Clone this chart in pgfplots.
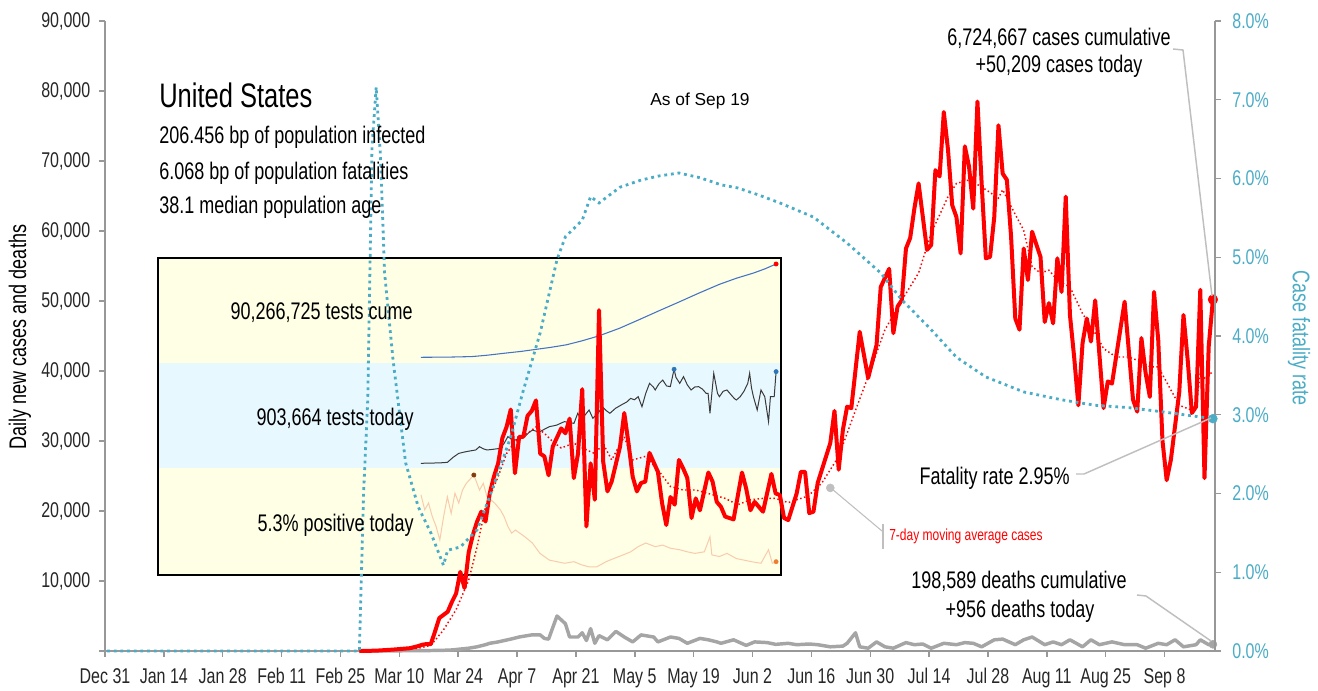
\documentclass[border=0pt]{standalone}
\usepackage{fontspec}
\setmainfont{Liberation Sans}[FakeStretch=0.75]
\newfontfamily\plainsans{Liberation Sans}
\usepackage{pgfplots}
\pgfplotsset{compat=1.18}
\definecolor{cfr}{HTML}{4BACC6}
\definecolor{deathc}{HTML}{A5A5A5}
\definecolor{bandY}{HTML}{FFFFE6}
\definecolor{bandB}{HTML}{E8F8FF}
\definecolor{cumec}{HTML}{4472C4}
\definecolor{testc}{HTML}{3A3A3A}
\definecolor{posc}{HTML}{F8CBAD}
\definecolor{axc}{HTML}{989898}
\definecolor{connc}{HTML}{BFBFBF}
\begin{document}
\begin{tikzpicture}[font=\fontsize{18}{21}\selectfont]
\useasboundingbox (-78.75pt,-29.25pt) rectangle (909.75pt,488.25pt);

% ---------------- inset ----------------
\begin{axis}[at={(39.75pt,57pt)}, anchor=south west, scale only axis,
  width=467.25pt, height=237.75pt, xmin=-64.2, xmax=265.6, ymin=0, ymax=317,
  hide axis, clip=false]
\fill[bandY] (axis cs:-64.2,0) rectangle (axis cs:265.6,107);
\fill[bandB] (axis cs:-64.2,107) rectangle (axis cs:265.6,212);
\fill[bandY] (axis cs:-64.2,212) rectangle (axis cs:265.6,317);
% tests cumulative, millions
\addplot[cumec, line width=0.8pt, y filter/.expression={217.7+1.0336*y}] coordinates {
(75,0)(90,0.2)(102,0.7)(110,2.0)(119,3.9)(128,5.7)(136,7.7)(144,9.7)(152,12.1)(160,15.8)
(169,20.6)(180,28)(190,36)(201,45)(212,53.8)(222,62)(233,70.6)(242,76.5)(251,81.5)(257,85.5)(263,90.27)};
% tests today, thousands
\addplot[testc, line width=0.75pt, y filter/.expression={107+0.1066*y}] coordinates {
(75,44)(80,46)(85,48)(89,53)(92,100)(95,137)(98,150)(101,160)(104,169)(106,200)(108,180)(110,169)
(113,175)(117,184)(119,230)(121,294)(123,270)(125,263)(128,280)(130,294)(132,330)(134,356)(136,345)
(138,341)(141,370)(143,388)(145,395)(147,403)(149,420)(151,435)(154,425)(156,419)(158,513)(160,450)
(162,500)(164,544)(166,466)(169,520)(171,575)(173,540)(175,513)(178,560)(181,591)(184,620)(186,653)
(188,640)(190,669)(192,575)(194,700)(196,794)(198,760)(199,732)(201,790)(203,825)(205,770)(207,763)
(209,926)(210,850)(212,794)(214,857)(216,780)(218,732)(220,760)(222,763)(224,740)(226,700)(227,700)
(228,513)(230,888)(232,700)(233,669)(235,720)(237,732)(239,690)(241,650)(242,638)(244,669)(246,720)
(248,794)(249,888)(250,750)(251,669)(253,544)(255,732)(257,669)(259,435)(260,669)(262,669)(263,904)};
% positive rate, percent
\addplot[posc, line width=0.75pt, y filter/.expression={-14.2+5.19*y}] coordinates {
(75,18.2)(77,15.3)(79,16.6)(81,14.0)(83,12.1)(85,9.5)(87,14.0)(89,17.8)(91,14.6)(93,18.5)(95,16.6)
(97,19.1)(99,20.4)(103,22.0)(106,19.1)(108,20.4)(110,17.8)(114,16.6)(117,15.3)(119,14.0)(121,12.1)
(123,10.8)(125,11.4)(130,10.1)(134,8.9)(138,6.9)(143,5.6)(147,5.3)(151,5.0)(156,5.3)(160,4.7)(164,4.3)
(168,4.3)(173,5.3)(177,5.9)(182,6.6)(186,7.2)(190,8.2)(194,8.9)(199,8.2)(203,8.5)(207,7.9)(212,7.6)
(216,7.2)(220,6.9)(225,7.2)(228,10.1)(229,6.6)(233,6.3)(237,6.9)(242,5.9)(246,5.6)(250,5.3)(255,5.0)
(259,7.6)(261,5.0)(263,5.3)};
\addplot[only marks, mark=*, mark size=1.6pt, red, y filter/.expression={217.7+1.0336*y}] coordinates {(263,90.27)};
\addplot[only marks, mark=*, mark size=1.6pt, color={rgb,255:red,46;green,117;blue,182}, y filter/.expression={107+0.1066*y}] coordinates {(209,926)(263,904)};
\addplot[only marks, mark=*, mark size=1.6pt, color={rgb,255:red,132;green,60;blue,12}, y filter/.expression={-14.2+5.19*y}] coordinates {(103,22.0)};
\addplot[only marks, mark=*, mark size=1.6pt, color={rgb,255:red,237;green,125;blue,49}, y filter/.expression={-14.2+5.19*y}] coordinates {(263,5.3)};
\draw[black, line width=2.2pt] (rel axis cs:0,0) rectangle (rel axis cs:1,1);
\end{axis}

% ---------------- main, left axis ----------------
\begin{axis}[at={(0pt,0pt)}, anchor=south west, scale only axis,
  width=832.5pt, height=472.5pt, xmin=0, xmax=264, ymin=0, ymax=90,
  axis x line*=bottom, axis y line*=left,
  axis line style={-, draw=axc, line width=1.3pt},
  tick align=outside, major tick length=4.5pt,
  tick style={draw=axc, line width=1.1pt},
  xtick={0,14,...,252},
  xticklabels={Dec 31,Jan 14,Jan 28,Feb 11,Feb 25,Mar 10,Mar 24,Apr 7,Apr 21,May 5,May 19,Jun 2,Jun 16,Jun 30,Jul 14,Jul 28,Aug 11,Aug 25,Sep 8},
  ytick={0,10,...,90},
  yticklabels={{},{10,000},{20,000},{30,000},{40,000},{50,000},{60,000},{70,000},{80,000},{90,000}},
  tick label style={font=\fontsize{16}{19}\selectfont, text=black!85},
  xticklabel style={yshift=-5pt},
  yticklabel style={xshift=-3pt},
  clip=false]
% deaths, thousands
\addplot[deathc, line width=2.6pt, line join=round, x filter/.expression={x+0.5}] coordinates {
(60,0)(75,0.05)(80,0.1)(82,0.15)(86,0.4)(88,0.6)(90,0.9)(91,1.1)(93,1.3)(96,1.7)(98,2.0)(99,2.1)(101,2.3)
(103,2.3)(104,1.8)(105,1.7)(107,5.0)(109,3.9)(110,2.0)(112,2.0)(113,2.6)(114,1.5)(115,3.2)(116,1.1)
(117,2.2)(119,1.6)(121,2.8)(123,2.0)(125,1.3)(127,2.3)(130,2.0)(131,1.3)(134,2.0)(136,1.8)(138,1.1)
(141,1.8)(143,1.6)(145,1.3)(146,1.1)(149,1.6)(152,0.8)(154,1.3)(157,1.2)(159,0.95)(162,1.1)(164,0.9)
(167,1.0)(169,0.9)(172,0.6)(175,0.7)(176,1.1)(178,2.6)(179,0.6)(181,0.4)(183,1.3)(185,0.6)(187,0.4)
(190,1.2)(192,0.9)(194,1.0)(196,0.4)(199,1.1)(202,0.9)(204,1.2)(206,1.1)(208,0.6)(211,1.6)(213,1.7)
(216,0.9)(218,1.6)(220,2.0)(223,0.9)(225,1.3)(227,0.9)(229,1.6)(232,0.6)(234,1.6)(236,0.9)(239,1.3)
(242,0.9)(245,0.9)(247,0.4)(250,1.1)(252,0.9)(254,1.6)(256,0.6)(259,0.9)(260,1.6)(262,0.9)(263,0.956)};
% daily cases, thousands
\addplot[red, line width=3pt, line join=round, x filter/.expression={x+0.5}] coordinates {
(60,0)(64,0.05)(68,0.2)(70,0.3)(72,0.4)(74,0.7)(75,0.9)(76,1.0)(77,1.0)(78,2.8)(79,4.7)(81,5.6)(82,7.0)
(83,8.2)(84,11.3)(85,9.0)(86,14.1)(87,16.6)(88,18.5)(89,19.9)(90,18.5)(91,22.5)(92,24.9)(93,26.8)
(94,30.4)(95,32.0)(96,34.5)(97,25.4)(98,30.6)(99,30.6)(100,33.6)(101,34.3)(102,35.8)(103,28.2)
(104,27.8)(105,25.1)(106,29.2)(107,30.5)(108,31.8)(109,31.1)(110,33.2)(111,24.7)(112,28.2)(113,37.4)
(114,17.8)(115,26.8)(116,21.6)(117,48.7)(118,27.0)(119,22.8)(120,24.2)(122,29.2)(123,34.0)(124,29.7)
(125,24.9)(126,22.8)(127,24.0)(128,24.2)(129,28.3)(131,25.6)(132,21.1)(133,18.0)(134,22.0)(135,20.9)
(136,27.3)(137,26.1)(138,24.7)(139,19.0)(140,21.8)(141,20.1)(143,25.5)(144,24.2)(145,21.3)(146,20.6)
(147,19.2)(149,18.8)(151,25.5)(152,23.2)(153,20.1)(154,21.3)(156,19.9)(158,25.3)(159,22.5)(160,22.3)
(161,19.0)(162,18.7)(164,22.5)(165,25.6)(166,25.6)(167,19.7)(168,19.9)(169,24.0)(171,27.8)(172,29.7)
(173,34.3)(174,25.9)(175,31.6)(176,34.9)(177,34.7)(179,45.6)(181,39.0)(183,43.7)(184,52.0)(186,54.6)
(187,45.4)(188,49.2)(189,50.1)(190,57.5)(191,59.0)(192,63.2)(193,66.8)(195,57.3)(196,58.0)(197,68.7)
(198,67.8)(199,77.0)(200,71.6)(201,63.7)(202,62.0)(203,56.8)(204,72.1)(205,69.2)(206,63.2)(207,78.5)
(208,66.8)(209,56.1)(210,56.3)(211,62.0)(212,75.1)(213,68.2)(214,67.3)(215,59.2)(216,47.5)(217,45.9)
(218,57.5)(219,53.0)(220,59.9)(222,56.3)(223,47.0)(224,49.7)(225,46.8)(226,56.1)(227,51.3)(228,64.9)
(229,48.0)(230,42.0)(231,35.1)(232,44.0)(233,47.5)(234,44.2)(235,50.1)(237,34.7)(238,38.5)(239,38.2)
(242,49.9)(244,35.9)(245,34.2)(246,44.7)(247,39.7)(248,36.3)(249,51.3)(250,44.4)(251,30.1)(252,24.4)
(253,27.3)(255,37.0)(256,48.0)(257,41.6)(258,34.0)(259,34.9)(260,51.6)(261,24.7)(262,43.5)(263,50.209)};
% 7-day moving average, thousands
\addplot[red, line width=1.1pt, dash pattern=on 1.1pt off 1.9pt, x filter/.expression={x+0.5}] coordinates {
(60,0)(70,0.2)(74,0.4)(77,0.8)(80,3.0)(83,5.9)(86,10.1)(88,14.9)(90,20.6)(93,24.9)(95,28.2)(97,29.9)
(100,31.1)(102,32.0)(104,31.1)(106,29.9)(108,29.0)(111,29.7)(113,29.0)(116,28.2)(118,29.6)(120,27.3)
(123,30.6)(125,27.3)(128,27.8)(131,25.9)(134,23.5)(137,23.0)(140,23.0)(143,22.5)(147,21.8)(150,20.9)
(153,21.6)(156,21.8)(159,21.8)(162,21.2)(166,22.0)(167,22.3)(170,24.0)(174,27.8)(178,34.4)(181,39.2)
(185,45.9)(189,50.1)(193,54.0)(196,59.7)(200,64.9)(202,66.8)(205,67.3)(208,66.3)(212,64.7)(213,65.9)
(215,63.5)(218,60.1)(220,54.9)(222,54.0)(224,54.4)(226,53.0)(229,52.0)(232,48.2)(235,45.4)(237,43.2)
(240,42.0)(243,42.0)(246,41.3)(248,40.6)(250,40.6)(253,37.3)(255,35.1)(258,34.4)(259,35.1)(260,39.7)
(261,39.0)(263,39.9)};
\addplot[only marks, mark=*, mark size=3.6pt, red, x filter/.expression={x+0.5}] coordinates {(263,50.209)};
\addplot[only marks, mark=*, mark size=3pt, deathc, x filter/.expression={x+0.5}] coordinates {(263,0.956)};
\addplot[only marks, mark=*, mark size=3pt, connc, x filter/.expression={x+0.5}] coordinates {(172,23.3)};
\end{axis}

% ---------------- main, right axis ----------------
\begin{axis}[at={(0pt,0pt)}, anchor=south west, scale only axis,
  width=832.5pt, height=472.5pt, xmin=0, xmax=264, ymin=0, ymax=8,
  axis x line=none, axis y line*=right,
  axis line style={-, draw=axc, line width=1.3pt},
  tick align=outside, major tick length=4.5pt,
  tick style={draw=axc, line width=1.1pt},
  ytick={0,1,...,8},
  yticklabels={{0.0\%},{1.0\%},{2.0\%},{3.0\%},{4.0\%},{5.0\%},{6.0\%},{7.0\%},{8.0\%}},
  yticklabel style={font=\fontsize{16}{19}\selectfont, text=cfr, xshift=5pt},
  clip=false]
\addplot[cfr, line width=2.1pt, dash pattern=on 2.1pt off 2.9pt, x filter/.expression={x+0.5}] coordinates {
(0,0)(59,0)(60,0)(61,2.0)(62,3.2)(63,6.4)(64,7.16)(65,6.3)(66,4.8)(68,3.70)(71,2.39)(74,1.83)(77,1.50)
(80,1.09)(81,1.28)(84,1.32)(88,1.54)(91,1.96)(96,2.72)(99,3.31)(103,4.04)(107,4.97)(109,5.26)(113,5.47)
(115,5.77)(117,5.69)(122,5.89)(127,5.98)(131,6.03)(136,6.07)(141,6.01)(146,5.92)(150,5.88)(155,5.79)
(160,5.69)(168,5.51)(176,5.18)(184,4.80)(189,4.46)(196,4.08)(202,3.73)(209,3.48)(218,3.29)(227,3.19)
(235,3.12)(243,3.09)(252,3.03)(263,2.95)};
\addplot[only marks, mark=*, mark size=3.3pt, cfr, x filter/.expression={x+0.5}] coordinates {(263,2.95)};
\end{axis}

% ---------------- annotations (pixel frame) ----------------
\begin{scope}[x=0.75pt, y=-0.75pt, shift={(-78.75pt,488.25pt)}]
\node[anchor=base west, inner sep=0, font=\fontsize{25.5}{30}\selectfont] at (159,107.5) {United States};
\node[anchor=base west, inner sep=0] at (159,144) {206.456 bp of population infected};
\node[anchor=base west, inner sep=0] at (159,180) {6.068 bp of population fatalities};
\node[anchor=base west, inner sep=0] at (159,213.5) {38.1 median population age};
\node[anchor=base, inner sep=0, font=\plainsans\fontsize{13}{15}\selectfont] at (700,106) {As of Sep 19};
\node[anchor=base east, inner sep=0] at (413,320) {90,266,725 tests cume};
\node[anchor=base east, inner sep=0] at (414,425.5) {903,664 tests today};
\node[anchor=base east, inner sep=0] at (414,531.5) {5.3\% positive today};
\node[anchor=base, inner sep=0] at (1059,45.5) {6,724,667 cases cumulative};
\node[anchor=base, inner sep=0] at (1059,72.5) {+50,209 cases today};
\node[anchor=base east, inner sep=0] at (1070,484) {Fatality rate 2.95\%};
\node[anchor=base, inner sep=0] at (1019,588.5) {198,589 deaths cumulative};
\node[anchor=base, inner sep=0] at (1020,617.5) {+956 deaths today};
\node[anchor=base west, inner sep=0, text=red, font=\fontsize{12}{14}\selectfont] at (889,540) {7-day moving average cases};
\node[rotate=90, inner sep=0] at (20,337) {Daily new cases and deaths};
\node[rotate=-90, inner sep=0, text=cfr] at (1299,338) {Case fatality rate};
\draw[connc, line width=1.1pt] (1173,49) -- (1183,50) -- (1212,296);
\draw[connc, line width=1.1pt] (1076,474) -- (1084,474) -- (1211,418);
\draw[connc, line width=1.1pt] (1137,595) -- (1146,596) -- (1211,641);
\draw[connc, line width=0.8pt] (832,489) -- (882,531);
\draw[connc, line width=1.1pt] (883,524) -- (883,549);
\end{scope}
\end{tikzpicture}
\end{document}
